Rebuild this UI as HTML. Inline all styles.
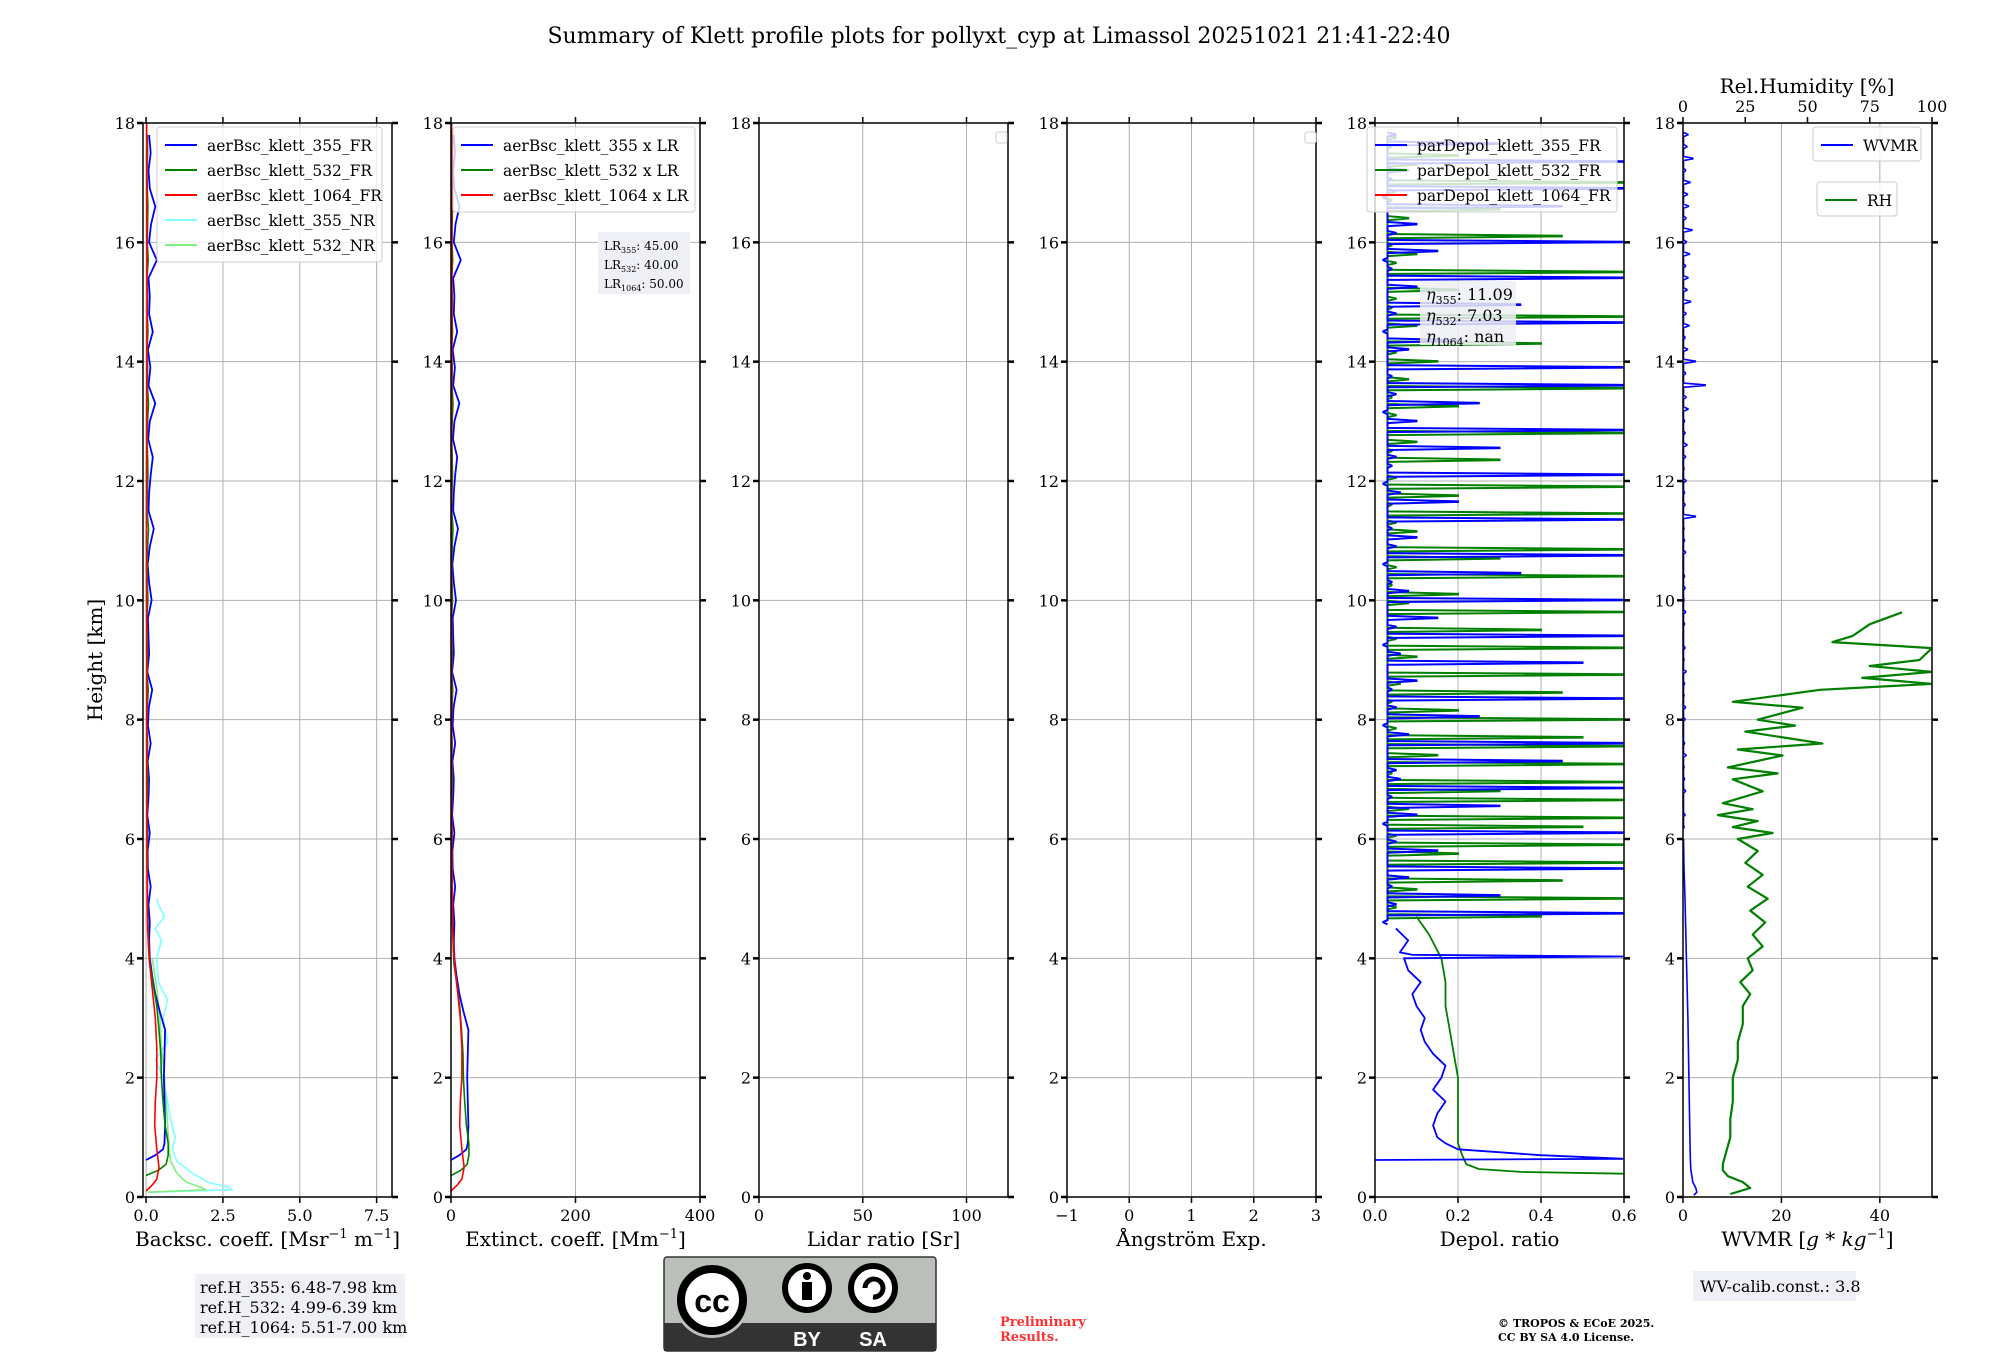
<!DOCTYPE html>
<html><head><meta charset="utf-8">
<style>
html,body{margin:0;padding:0;background:#fff;}
svg{display:block;font-family:"DejaVu Serif","Liberation Serif",serif;}
</style></head>
<body>
<svg id="fig" width="2000" height="1360" viewBox="0 0 2000 1360" xmlns="http://www.w3.org/2000/svg">
<text x="999" y="43" font-size="22" text-anchor="middle">Summary of Klett profile plots for pollyxt_cyp at Limassol 20251021 21:41-22:40</text>
<text transform="translate(102,660) rotate(-90)" font-size="20" text-anchor="middle">Height [km]</text>
<g id="plots"></g>
<g>
<rect x="195" y="1274" width="210" height="64" fill="#eef0f5"/>
<text x="200" y="1293" font-size="16">ref.H_355: 6.48-7.98 km</text>
<text x="200" y="1313" font-size="16">ref.H_532: 4.99-6.39 km</text>
<text x="200" y="1333" font-size="16">ref.H_1064: 5.51-7.00 km</text>
</g>
<g>
<rect x="664" y="1257" width="272" height="94" rx="3" fill="#bbbfba" stroke="#333" stroke-width="1.5"/>
<rect x="664" y="1323" width="272" height="28" fill="#333"/>
<circle cx="712" cy="1300" r="38" fill="#bbbfba"/>
<circle cx="712" cy="1300" r="31" fill="#fff" stroke="#000" stroke-width="8"/>
<text x="712" y="1312" font-family="Liberation Sans,sans-serif" font-weight="bold" font-size="32" text-anchor="middle">cc</text>
<circle cx="807" cy="1288" r="22" fill="#fff" stroke="#000" stroke-width="6"/>
<circle cx="807" cy="1276" r="4" fill="#000"/>
<rect x="802" y="1282" width="10" height="18" fill="#000"/>
<circle cx="873" cy="1288" r="22" fill="#fff" stroke="#000" stroke-width="6"/>
<path d="M865 1288 A9 9 0 1 1 873 1297" fill="none" stroke="#000" stroke-width="5"/>
<text x="807" y="1346" font-family="Liberation Sans,sans-serif" font-weight="bold" font-size="20" fill="#fff" text-anchor="middle">BY</text>
<text x="873" y="1346" font-family="Liberation Sans,sans-serif" font-weight="bold" font-size="20" fill="#fff" text-anchor="middle">SA</text>
</g>
<text x="1000" y="1326" font-size="13" font-weight="bold" fill="#ff3030">Preliminary</text>
<text x="1000" y="1341" font-size="13" font-weight="bold" fill="#ff3030">Results.</text>
<text x="1498" y="1327" font-size="11" font-weight="bold">© TROPOS &amp; ECoE 2025.</text>
<text x="1498" y="1341" font-size="11" font-weight="bold">CC BY SA 4.0 License.</text>
<g>
<rect x="1693" y="1271" width="163" height="30" fill="#eef0f5"/>
<text x="1700" y="1292" font-size="16">WV-calib.const.: 3.8</text>
</g>
</svg>
<script>
// ---------- data ----------
const yTicks=[0,2,4,6,8,10,12,14,16,18];
const bsc355H=[0.62,0.7,0.8,0.9,1.2,1.6,2.0,2.4,2.8,3.1,3.4,3.7,4.0,4.3,4.6,4.9,5.2,5.5];
const bsc355V=[0,0.3,0.55,0.6,0.62,0.6,0.58,0.6,0.62,0.45,0.3,0.2,0.12,0.1,0.12,0.08,0.15,0.06];
const bsc355Aloft=[0.05,0.12,0.04,0.08,0.1,0.05,0.15,0.06,0.09,0.2,0.04,0.1,0.08,0.06,0.18,0.1,0.05,0.12,0.25,0.08,0.1,0.15,0.22,0.07,0.12,0.3,0.08,0.14,0.06,0.22,0.1,0.12,0.08,0.35,0.1,0.16,0.3,0.12,0.08,0.15,0.1];
const bsc532H=[0.36,0.45,0.55,0.7,0.9,1.2,1.6,2.0,2.4,2.8,3.2,3.6,3.9,4.3,4.8,5.5];
const bsc532V=[0,0.4,0.65,0.72,0.72,0.62,0.55,0.5,0.48,0.42,0.35,0.22,0.12,0.08,0.05,0.04];
const bsc532Aloft=[0.03,0.05,0.02,0.04,0.06,0.03,0.05,0.02,0.04,0.07,0.03,0.05,0.04,0.02,0.06,0.04,0.03,0.05,0.08,0.03,0.04,0.06,0.05,0.03,0.05,0.08,0.04,0.05,0.03,0.06,0.04,0.05,0.03,0.07,0.04,0.05,0.06,0.04,0.03,0.05,0.04];
const bsc1064H=[0.1,0.2,0.3,0.5,0.8,1.2,1.6,2.0,2.5,3.0,3.5,4.0,4.5,5.5,7,9,11,13,15,17,18];
const bsc1064V=[0,0.2,0.35,0.42,0.35,0.28,0.3,0.35,0.35,0.3,0.2,0.1,0.05,0.03,0.02,0.02,0.01,0.02,0.03,0.02,0.02];
const bscNR355H=[0.08,0.12,0.16,0.25,0.4,0.6,0.8,1.0,1.3,1.6,2.0,2.3,2.6,3.0,3.3,3.6,4.0,4.3,4.5,4.7,4.9,5.0];
const bscNR355V=[0.1,2.8,2.7,2.0,1.5,1.0,0.85,0.95,0.8,0.7,0.55,0.3,0.7,0.55,0.7,0.4,0.35,0.5,0.3,0.6,0.4,0.35];
const bscNR532H=[0.08,0.12,0.16,0.25,0.4,0.6,0.8,1.2,1.6,2.0,2.5,3.0,3.5,4.0];
const bscNR532V=[0.05,1.95,1.8,1.3,1.0,0.8,0.75,0.7,0.65,0.6,0.5,0.45,0.35,0.2];
const aloftStartBsc=5.8, aloftStepBsc=0.3;
const LR355=45, LR532=40, LR1064=50;
const dep355H=[0.62,0.64,0.7,0.8,0.9,1.0,1.2,1.4,1.6,1.8,2.0,2.2,2.4,2.6,2.8,3.0,3.2,3.4,3.6,3.8,4.0,4.03,4.06,4.1,4.3,4.5];
const dep355V=[0.0,0.6,0.4,0.2,0.17,0.15,0.14,0.15,0.17,0.14,0.16,0.17,0.14,0.12,0.11,0.12,0.1,0.09,0.11,0.08,0.07,0.6,0.09,0.06,0.08,0.05];
const dep532H=[0.37,0.39,0.42,0.47,0.55,0.7,0.9,1.2,1.6,2.0,2.4,2.8,3.2,3.6,4.0,4.4,4.7];
const dep532V=[0.6,0.6,0.35,0.25,0.22,0.21,0.2,0.2,0.2,0.2,0.19,0.18,0.17,0.17,0.16,0.13,0.1];
const dep355Aloft=[0.02,0.6,0.05,0.3,0.04,0.08,0.6,0.03,0.15,0.05,0.6,0.02,0.1,0.3,0.04,0.6,0.06,0.05,0.45,0.03,0.6,0.08,0.02,0.25,0.05,0.6,0.04,0.1,0.03,0.5,0.06,0.02,0.6,0.05,0.15,0.03,0.6,0.08,0.04,0.35,0.02,0.6,0.05,0.1,0.04,0.6,0.03,0.2,0.06,0.02,0.6,0.04,0.05,0.3,0.03,0.6,0.1,0.02,0.25,0.05,0.6,0.04,0.6,0.03,0.08,0.2,0.02,0.6,0.05,0.35,0.03,0.1,0.6,0.04,0.02,0.15,0.6,0.05,0.1,0.03,0.45,0.02,0.6,0.04,0.08,0.6,0.03,0.3,0.05];
const dep532Aloft=[0.4,0.05,0.6,0.1,0.45,0.03,0.6,0.2,0.6,0.05,0.5,0.6,0.08,0.6,0.3,0.6,0.04,0.6,0.15,0.6,0.5,0.05,0.6,0.2,0.04,0.45,0.06,0.6,0.03,0.1,0.6,0.05,0.4,0.03,0.6,0.08,0.2,0.04,0.6,0.05,0.3,0.6,0.03,0.1,0.05,0.6,0.04,0.2,0.6,0.05,0.03,0.3,0.04,0.1,0.6,0.03,0.05,0.2,0.04,0.6,0.08,0.03,0.15,0.05,0.4,0.03,0.1,0.6,0.04,0.05,0.2,0.03,0.6,0.05,0.1,0.04,0.45,0.03,0.08,0.3,0.04,0.05,0.6,0.03,0.1,0.2,0.04,0.05];
const depAloftStart355=4.6, depAloftStart532=4.7, depAloftStep=0.15, depBase=0.03;
const wvH=[0.03,0.08,0.15,0.25,0.35,0.45,0.6,1.0,1.5,2.0,3.0,4.0,5.0,5.5,6.0];
const wvV=[2.2,2.8,2.6,2.0,1.8,1.6,1.5,1.4,1.3,1.2,1.0,0.7,0.4,0.2,0.1];
const wvAloft=[0.2,0.4,0.1,0.5,0.3,0.2,0.6,0.3,0.1,0.4,0.5,0.2,0.3,0.6,0.2,0.4,0.1,0.3,0.5,0.2,0.4,0.3,0.1,0.5,0.3,0.2,2.5,0.4,0.3,0.6,0.2,0.5,0.8,0.4,0.3,1.0,0.6,4.5,0.5,2.5,0.9,0.4,1.2,0.6,1.5,0.8,1.0,0.5,1.3,0.7,1.8,0.6,1.1,0.9,1.4,0.5,2.0,0.8,1.0];
const wvAloftStart=6.2, wvAloftStep=0.2;
const rhH=[0.05,0.1,0.15,0.25,0.35,0.45,0.55,0.7,1.0,1.3,1.6,2.0,2.3,2.6,2.9,3.2,3.4,3.6,3.8,4.0,4.2,4.4,4.6,4.8,5.0,5.2,5.4,5.6,5.8,6.0,6.1,6.2,6.3,6.4,6.5,6.6,6.8,7.0,7.1,7.2,7.4,7.5,7.6,7.8,7.9,8.0,8.2,8.3,8.5,8.6,8.7,8.8,8.9,9.0,9.2,9.3,9.4,9.6,9.8];
const rhV=[19,23,27,24,18,16,16,17,19,19,20,20,22,22,24,24,27,23,28,26,32,28,33,27,34,26,32,25,30,22,36,20,30,14,28,16,32,20,38,18,40,22,56,25,45,30,48,20,55,100,72,100,75,95,100,60,68,75,88];
// ---------- layout ----------
const TOP=123, BOT=1197, YMAX=18;
const Y=h=>BOT-(h/YMAX)*(BOT-TOP);
const panels=[
 {l:143,r:392,xmin:-0.1,xmax:8.0,ticks:[0,2.5,5,7.5],lab:["0.0","2.5","5.0","7.5"],title:"Backsc. coeff. [Msr<tspan font-size='13' dy='-8'>−1</tspan><tspan dy='8'> m</tspan><tspan font-size='13' dy='-8'>−1</tspan><tspan dy='8'>]</tspan>",name:"backscatter"},
 {l:451,r:700,xmin:0,xmax:400,ticks:[0,200,400],lab:["0","200","400"],title:"Extinct. coeff. [Mm<tspan font-size='13' dy='-8'>−1</tspan><tspan dy='8'>]</tspan>",name:"extinction"},
 {l:759,r:1008,xmin:0,xmax:120,ticks:[0,50,100],lab:["0","50","100"],title:"Lidar ratio [Sr]",name:"lidar-ratio"},
 {l:1067,r:1316,xmin:-1,xmax:3,ticks:[-1,0,1,2,3],lab:["−1","0","1","2","3"],title:"Ångström Exp.",name:"angstrom"},
 {l:1375,r:1624,xmin:0,xmax:0.6,ticks:[0,0.2,0.4,0.6],lab:["0.0","0.2","0.4","0.6"],title:"Depol. ratio",name:"depol"},
 {l:1683,r:1932,xmin:0,xmax:50.6,ticks:[0,20,40],lab:["0","20","40"],title:"WVMR [<tspan font-style='italic'>g</tspan> * <tspan font-style='italic'>kg</tspan><tspan font-size='13' dy='-8'>−1</tspan><tspan dy='8'>]</tspan>",name:"wvmr"}
];
const NS="http://www.w3.org/2000/svg";
const root=document.getElementById('plots');
function mk(tag,attrs,parent){const e=document.createElementNS(NS,tag);for(const k in attrs)e.setAttribute(k,attrs[k]);(parent||root).appendChild(e);return e;}
function xs(p,v){return p.l+(v-p.xmin)/(p.xmax-p.xmin)*(p.r-p.l);}
function line(p,g,H,V,color,w,name){
 const pts=H.map((h,i)=>xs(p,V[i]).toFixed(1)+','+Y(h).toFixed(1)).join(' ');
 const e=mk('polyline',{points:pts,fill:'none',stroke:color,'stroke-width':w,'stroke-linejoin':'round','clip-path':'url(#clip'+p.idx+')'},g);
 
 
 return e;
}
// spiky profile: each sample is a thin horizontal excursion from the baseline
function spikes(p,g,start,step,V,base,color,w,name){
 let pts=[];
 V.forEach((v,i)=>{const h=start+i*step;
  pts.push(xs(p,base).toFixed(1)+','+Y(h-0.03).toFixed(1));
  pts.push(xs(p,v).toFixed(1)+','+Y(h).toFixed(1));
  pts.push(xs(p,v).toFixed(1)+','+Y(h+0.01).toFixed(1));
  pts.push(xs(p,base).toFixed(1)+','+Y(h+0.04).toFixed(1));
 });
 const e=mk('polyline',{points:pts.join(' '),fill:'none',stroke:color,'stroke-width':w,'clip-path':'url(#clip'+p.idx+')'},g);
 
 
}
function aloftH(start,step,arr){return arr.map((_,i)=>start+i*step);}
const defs=mk('defs',{});
panels.forEach((p,i)=>{
 p.idx=i;
 const cp=mk('clipPath',{id:'clip'+i},defs);
 mk('rect',{x:p.l,y:TOP,width:p.r-p.l,height:BOT-TOP},cp);
 const g=mk('g',{});
 
 
 p.ticks.forEach(t=>{const x=xs(p,t);mk('line',{x1:x,x2:x,y1:TOP,y2:BOT,stroke:'#b0b0b0','stroke-width':1},g);});
 yTicks.forEach(t=>{mk('line',{x1:p.l,x2:p.r,y1:Y(t),y2:Y(t),stroke:'#b0b0b0','stroke-width':1},g);});
 p.g=g;
});
const P=panels;
const b355H=bsc355H.concat(aloftH(aloftStartBsc,aloftStepBsc,bsc355Aloft)), b355V=bsc355V.concat(bsc355Aloft);
const b532H=bsc532H.concat(aloftH(aloftStartBsc,aloftStepBsc,bsc532Aloft)), b532V=bsc532V.concat(bsc532Aloft);
line(P[0],P[0].g,bscNR355H,bscNR355V,'#7fffff',1.6,'line-bsc-355-nr');
line(P[0],P[0].g,bscNR532H,bscNR532V,'#80ee80',1.6,'line-bsc-532-nr');
line(P[0],P[0].g,b355H,b355V,'#0000ff',1.8,'line-bsc-355-fr');
line(P[0],P[0].g,b532H,b532V,'#007f00',1.6,'line-bsc-532-fr');
line(P[0],P[0].g,bsc1064H,bsc1064V,'#ff0000',1.6,'line-bsc-1064-fr');
line(P[1],P[1].g,b355H,b355V.map(v=>v*LR355),'#0000ff',1.8,'line-ext-355');
line(P[1],P[1].g,b532H,b532V.map(v=>v*LR532),'#007f00',1.6,'line-ext-532');
line(P[1],P[1].g,bsc1064H,bsc1064V.map(v=>v*LR1064),'#ff0000',1.6,'line-ext-1064');
line(P[4],P[4].g,dep532H,dep532V,'#007f00',1.8,'line-depol-532');
spikes(P[4],P[4].g,depAloftStart532,depAloftStep,dep532Aloft,depBase,'#007f00',2,'line-depol-532-aloft');
line(P[4],P[4].g,dep355H,dep355V,'#0000ff',1.8,'line-depol-355');
spikes(P[4],P[4].g,depAloftStart355,depAloftStep,dep355Aloft,depBase,'#0000ff',2,'line-depol-355-aloft');
line(P[5],P[5].g,wvH,wvV,'#0000ff',1.6,'line-wvmr');
spikes(P[5],P[5].g,wvAloftStart,wvAloftStep,wvAloft,0.1,'#0000ff',1.6,'line-wvmr-aloft');
const rhPanel={l:P[5].l,r:P[5].r,xmin:0,xmax:100,idx:5};
line(rhPanel,P[5].g,rhH,rhV,'#007f00',2.2,'line-rh');
panels.forEach((p,i)=>{
 const g=p.g;
 mk('rect',{x:p.l,y:TOP,width:p.r-p.l,height:BOT-TOP,fill:'none',stroke:'#000','stroke-width':1.5},g);
 p.ticks.forEach((t,j)=>{
  const x=xs(p,t);
  mk('line',{x1:x,x2:x,y1:BOT,y2:BOT+6,stroke:'#000','stroke-width':1.5},g);
  if(i!==5) mk('line',{x1:x,x2:x,y1:TOP,y2:TOP-6,stroke:'#000','stroke-width':1.5},g);
  const tl=mk('text',{x:x,y:BOT+24,'font-size':16,'text-anchor':'middle'},g);
  tl.textContent=p.lab[j];
  
  
 });
 yTicks.forEach(t=>{
  mk('line',{x1:p.l-6,x2:p.l,y1:Y(t),y2:Y(t),stroke:'#000','stroke-width':2.5},g);
  mk('line',{x1:p.r,x2:p.r+6,y1:Y(t),y2:Y(t),stroke:'#000','stroke-width':2.5},g);
  const tl=mk('text',{x:p.l-8,y:Y(t)+6,'font-size':16,'text-anchor':'end'},g);
  tl.textContent=t;
  
  
 });
 const xt=mk('text',{x:(p.l+p.r)/2,y:1246,'font-size':20,'text-anchor':'middle'},g);
 xt.innerHTML=p.title;
 
 
});
const rhTicks=[0,25,50,75,100];
rhTicks.forEach(t=>{const x=xs(rhPanel,t);
 mk('line',{x1:x,x2:x,y1:TOP,y2:TOP-6,stroke:'#000','stroke-width':1.5},P[5].g);
 const tl=mk('text',{x:x,y:TOP-11,'font-size':16,'text-anchor':'middle'},P[5].g);
 tl.textContent=t;
 
 
});
const rht=mk('text',{x:1807,y:93,'font-size':20,'text-anchor':'middle'},P[5].g);
rht.textContent='Rel.Humidity [%]';


function legend(x,y,w,entries,name,lh){
 const g=mk('g',{});
 
 
 mk('rect',{x:x,y:y,width:w,height:entries.length*lh+10,rx:3,fill:'#fff','fill-opacity':0.8,stroke:'#ccc'},g);
 entries.forEach((e,i)=>{const cy=y+18+i*lh;
  mk('line',{x1:x+8,x2:x+40,y1:cy,y2:cy,stroke:e[1],'stroke-width':2},g);
  const t=mk('text',{x:x+50,y:cy+6,'font-size':15.5},g);t.textContent=e[0];
 });
}
legend(157,127,225,[['aerBsc_klett_355_FR','#0000ff'],['aerBsc_klett_532_FR','#007f00'],['aerBsc_klett_1064_FR','#ff0000'],['aerBsc_klett_355_NR','#7fffff'],['aerBsc_klett_532_NR','#80ee80']],'legend-backscatter',25);
legend(453,127,242,[['aerBsc_klett_355 x LR','#0000ff'],['aerBsc_klett_532 x LR','#007f00'],['aerBsc_klett_1064 x LR','#ff0000']],'legend-extinction',25);
legend(1367,127,250,[['parDepol_klett_355_FR','#0000ff'],['parDepol_klett_532_FR','#007f00'],['parDepol_klett_1064_FR','#ff0000']],'legend-depol',25);
legend(1813,127,108,[['WVMR','#0000ff']],'legend-wvmr',24);
legend(1817,182,80,[['RH','#007f00']],'legend-rh',24);
[[996,132],[1305,132]].forEach(c=>{const r=mk('rect',{x:c[0],y:c[1],width:11,height:11,rx:2,fill:'#fff',stroke:'#ccc'});});
const lrg=mk('g',{});


mk('rect',{x:598,y:232,width:92,height:62,fill:'#eef0f5'},lrg);
[['355',LR355],['532',LR532],['1064',LR1064]].forEach((e,i)=>{const t=mk('text',{x:604,y:250+i*19,'font-size':12},lrg);
 t.innerHTML="LR<tspan font-size='8' dy='3'>"+e[0]+"</tspan><tspan dy='-3'>: "+e[1].toFixed(2)+"</tspan>";});
const eg=mk('g',{});


mk('rect',{x:1420,y:281,width:96,height:64,fill:'#eef0f5','fill-opacity':0.85},eg);
[['355','11.09'],['532','7.03'],['1064','nan']].forEach((e,i)=>{const t=mk('text',{x:1426,y:300+i*21,'font-size':16},eg);
 t.innerHTML="<tspan font-style='italic'>η</tspan><tspan font-size='11' dy='4'>"+e[0]+"</tspan><tspan dy='-4'>: "+e[1]+"</tspan>";});
</script>
</body></html>
